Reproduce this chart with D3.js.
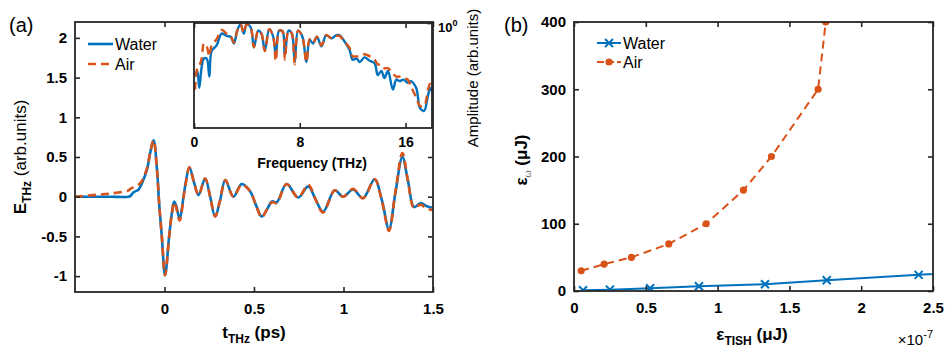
<!DOCTYPE html>
<html>
<head>
<meta charset="utf-8">
<script src="https://cdn.jsdelivr.net/npm/d3@7"></script>
<style>
  body { margin: 0; background: #fff; }
  text { font-family: "Liberation Sans", Arial, sans-serif; fill: #000; }
</style>
</head>
<body>
<div id="chart"></div>
<script>
// ---- panel (a): time-domain field ----
const timePs = [-0.5, -0.4, -0.3, -0.2, -0.19, -0.173, -0.145, -0.126, -0.098, -0.08, -0.061, -0.042, -0.03, -0.015,
  0.003, 0.026, 0.041, 0.054, 0.066, 0.084, 0.115, 0.139, 0.165, 0.19, 0.227, 0.255, 0.283, 0.31, 0.34, 0.385,
  0.431, 0.478, 0.51, 0.543, 0.575, 0.6, 0.627, 0.682, 0.747, 0.803, 0.845, 0.886, 0.951, 0.998, 1.054, 1.109,
  1.174, 1.215, 1.254, 1.29, 1.329, 1.36, 1.394, 1.431, 1.465, 1.5];
const waterField = [0, 0, 0, 0, 0.01, 0.055, 0.09, 0.17, 0.34, 0.55, 0.71, 0.34, -0.08, -0.5,
  -0.99, -0.5, -0.21, -0.06, -0.12, -0.27, 0.13, 0.37, 0.18, 0.02, 0.23, 0.0, -0.25, -0.05, 0.21, 0.0,
  0.16, 0.07, -0.1, -0.25, -0.15, -0.06, -0.07, 0.16, -0.01, 0.13, -0.04, -0.19, 0.08, 0.0, 0.09, -0.02,
  0.22, -0.05, -0.41, 0.05, 0.5, 0.2, -0.13, -0.08, -0.12, -0.14];
const airField = [0, 0.02, 0.04, 0.08, 0.1, 0.12, 0.15, 0.2, 0.36, 0.56, 0.71, 0.34, -0.08, -0.5,
  -0.99, -0.5, -0.21, -0.07, -0.14, -0.3, 0.12, 0.37, 0.18, 0.02, 0.23, 0.0, -0.25, -0.05, 0.21, 0.0,
  0.15, 0.07, -0.1, -0.26, -0.15, -0.07, -0.08, 0.16, -0.01, 0.15, -0.04, -0.2, 0.08, 0.0, 0.1, -0.02,
  0.22, -0.06, -0.43, 0.06, 0.55, 0.2, -0.14, -0.1, -0.15, -0.17];
const timeTicks = [0, 0.5, 1, 1.5];
const fieldTicks = [-1, -0.5, 0, 0.5, 1, 1.5, 2];

// ---- inset: spectrum ----
const freqTHz = [0.08, 0.25, 0.4, 0.58, 0.75, 0.96, 1.16, 1.33, 1.71, 2.09, 2.47, 2.77, 3.02, 3.27, 3.52, 3.77,
  3.97, 4.28, 4.53, 4.86, 5.1, 5.36, 5.69, 5.99, 6.19, 6.44, 6.7, 6.87, 7.15, 7.4, 7.62, 7.87, 8.2, 8.5, 8.75,
  9.0, 9.3, 9.64, 10.0, 10.4, 10.77, 11.0, 11.4, 11.77, 12.0, 12.3, 12.53, 12.9, 13.3, 13.66, 13.9, 14.17,
  14.4, 14.67, 15.04, 15.3, 15.55, 15.85, 16.17, 16.4, 16.8, 17.1, 17.4, 17.7, 17.87, 18.0];
const waterSpec = [0.44, 0.48, 0.37, 0.51, 0.58, 0.58, 0.44, 0.65, 0.71, 0.85, 0.82, 0.81, 0.73, 0.89, 0.98, 0.85,
  0.98, 0.94, 0.69, 0.89, 0.85, 0.66, 0.91, 0.81, 0.60, 0.89, 0.88, 0.61, 0.89, 0.85, 0.55, 0.89, 0.81, 0.55, 0.77,
  0.73, 0.81, 0.70, 0.83, 0.79, 0.83, 0.83, 0.75, 0.66, 0.57, 0.58, 0.55, 0.59, 0.56, 0.54, 0.45, 0.48,
  0.43, 0.48, 0.36, 0.42, 0.41, 0.42, 0.40, 0.41, 0.37, 0.27, 0.26, 0.33, 0.37, 0.35];
const airSpec = [0.36, 0.50, 0.52, 0.58, 0.73, 0.70, 0.60, 0.71, 0.78, 0.90, 0.85, 0.82, 0.74, 0.89, 0.98, 0.86,
  0.98, 0.94, 0.69, 0.89, 0.85, 0.65, 0.91, 0.81, 0.56, 0.89, 0.88, 0.57, 0.89, 0.85, 0.53, 0.89, 0.81, 0.55, 0.78,
  0.74, 0.81, 0.71, 0.83, 0.79, 0.82, 0.82, 0.75, 0.68, 0.60, 0.60, 0.60, 0.62, 0.60, 0.57, 0.53, 0.53,
  0.50, 0.50, 0.46, 0.44, 0.44, 0.43, 0.42, 0.38, 0.32, 0.28, 0.28, 0.36, 0.40, 0.41];
const freqTicks = [0, 8, 16];

// ---- panel (b): energy scaling (x in units of 1e-7 uJ) ----
const waterEnergy = [0.063, 0.25, 0.53, 0.87, 1.33, 1.76, 2.40, 2.8];
const waterOmega = [1, 2, 4, 7, 10, 16, 24, 29];
const airEnergy = [0.05, 0.21, 0.40, 0.66, 0.92, 1.18, 1.375, 1.70, 1.753];
const airOmega = [30, 40, 50, 70, 100, 150, 200, 300, 400];
const energyTicks = [0, 0.5, 1, 1.5, 2, 2.5];
const omegaTicks = [0, 100, 200, 300, 400];

const blue = '#0072BD', orange = '#D95319', axisCol = '#262626';

const svg = d3.select('#chart').append('svg')
  .attr('width', 947).attr('height', 350);

function frame(g, x, y, xt, yt, o) {
  const [x0, x1] = x.range(), [y0, y1] = y.range();
  const fmt = d => String(d);
  const tk = 5;
  const bottom = g.append('g').attr('transform', 'translate(0,' + y0 + ')')
    .call(d3.axisBottom(x).tickValues(xt).tickSize(-tk).tickPadding(o.padX).tickFormat(o.xLabels ? fmt : ''));
  g.append('g').attr('transform', 'translate(0,' + y1 + ')')
    .call(d3.axisTop(x).tickValues(xt).tickSize(-tk).tickFormat(''));
  g.append('g').attr('transform', 'translate(' + x0 + ',0)')
    .call(d3.axisLeft(y).tickValues(o.leftTicks ? yt : []).tickSize(-tk).tickPadding(8).tickFormat(fmt));
  g.append('g').attr('transform', 'translate(' + x1 + ',0)')
    .call(d3.axisRight(y).tickValues(yt).tickSize(-tk).tickFormat(''));
  g.selectAll('.domain').remove();
  g.selectAll('.tick line').attr('stroke', axisCol).attr('stroke-width', 1.6);
  g.selectAll('.tick text').attr('font-size', o.fs).attr('font-weight', 'bold')
    .attr('font-family', '"Liberation Sans", Arial, sans-serif').attr('fill', '#000');
  g.append('rect').attr('x', x0).attr('y', y1).attr('width', x1 - x0).attr('height', y0 - y1)
    .attr('fill', 'none').attr('stroke', axisCol).attr('stroke-width', 1.8);
}

function clip(id, x, y) {
  const [x0, x1] = x.range(), [y0, y1] = y.range();
  svg.append('clipPath').attr('id', id).append('rect')
    .attr('x', x0).attr('y', y1).attr('width', x1 - x0).attr('height', y0 - y1);
}

// ===== panel (a) =====
const xA = d3.scaleLinear().domain([-0.5, 1.5]).range([75, 433]);
const yA = d3.scaleLinear().domain([-1.2, 2.2]).range([292, 22]);
clip('clipA', xA, yA);
const gA = svg.append('g');
const lineA = (vals) => d3.line().curve(d3.curveCatmullRom.alpha(0.5))
  .x((d, i) => xA(timePs[i])).y(d => yA(d))(vals);
const plotA = gA.append('g').attr('clip-path', 'url(#clipA)');
plotA.append('path').attr('d', lineA(waterField)).attr('fill', 'none')
  .attr('stroke', blue).attr('stroke-width', 2.6);
plotA.append('path').attr('d', lineA(airField)).attr('fill', 'none')
  .attr('stroke', orange).attr('stroke-width', 2.6).attr('stroke-dasharray', '8,5');
frame(gA, xA, yA, timeTicks, fieldTicks, { padX: 11, xLabels: true, leftTicks: true, fs: 15 });

// legend (a)
const legA = gA.append('g');
[['Water', blue, null, 44], ['Air', orange, '8,5', 64]].forEach(([name, col, dash, yy]) => {
  legA.append('line').attr('x1', 88).attr('x2', 113).attr('y1', yy).attr('y2', yy)
    .attr('stroke', col).attr('stroke-width', 2.6).attr('stroke-dasharray', dash);
  legA.append('text').attr('x', 115).attr('y', yy + 5.5).attr('font-size', 16).text(name);
});

// inset
const xI = d3.scaleLinear().domain([0, 18]).range([194, 432]);
const yI = d3.scaleLog().domain([0.2, 1]).range([128, 23]);
clip('clipI', xI, yI);
const gI = svg.append('g');
gI.append('rect').attr('x', 194).attr('y', 23).attr('width', 238).attr('height', 105).attr('fill', '#fff');
const lineI = (vals) => d3.line().curve(d3.curveCatmullRom.alpha(0.5))
  .x((d, i) => xI(freqTHz[i])).y(d => yI(d))(vals);
const plotI = gI.append('g').attr('clip-path', 'url(#clipI)');
plotI.append('path').attr('d', lineI(waterSpec)).attr('fill', 'none')
  .attr('stroke', blue).attr('stroke-width', 2.4);
plotI.append('path').attr('d', lineI(airSpec)).attr('fill', 'none')
  .attr('stroke', orange).attr('stroke-width', 2.4).attr('stroke-dasharray', '8,5');
frame(gI, xI, yI, freqTicks, [1], { padX: 9, xLabels: true, leftTicks: false, fs: 14 });
const tenLabel = gI.append('text').attr('x', 438).attr('y', 32).attr('font-size', 13).attr('font-weight', 'bold');
tenLabel.append('tspan').text('10');
tenLabel.append('tspan').attr('dy', -6).attr('font-size', 9).text('0');
gI.append('text').attr('x', 312).attr('y', 168).attr('text-anchor', 'middle')
  .attr('font-size', 14).attr('font-weight', 'bold').text('Frequency (THz)');
gI.append('text').attr('transform', 'translate(478,78) rotate(-90)').attr('text-anchor', 'middle')
  .attr('font-size', 15).text('Amplitude (arb.units)');

// titles (a)
const xtA = gA.append('text').attr('x', 254).attr('y', 338).attr('text-anchor', 'middle')
  .attr('font-size', 17).attr('font-weight', 'bold');
xtA.append('tspan').text('t');
xtA.append('tspan').attr('dy', 5).attr('font-size', 12).text('THz');
xtA.append('tspan').attr('dy', -5).text(' (ps)');
const ytA = gA.append('text').attr('transform', 'translate(26,157) rotate(-90)').attr('text-anchor', 'middle')
  .attr('font-size', 17).attr('font-weight', 'bold');
ytA.append('tspan').text('E');
ytA.append('tspan').attr('dy', 5).attr('font-size', 12).text('THz');
ytA.append('tspan').attr('dy', -5).attr('font-weight', 'normal').text(' (arb.units)');
svg.append('text').attr('x', 9).attr('y', 32).attr('font-size', 20).text('(a)');

// ===== panel (b) =====
const xB = d3.scaleLinear().domain([0, 2.5]).range([574, 933]);
const yB = d3.scaleLinear().domain([0, 400]).range([291, 22]);
clip('clipB', xB, yB);
const gB = svg.append('g');
const plotB = gB.append('g').attr('clip-path', 'url(#clipB)');
const lineB = d3.line().x(d => xB(d[0])).y(d => yB(d[1]));
const waterPts = waterEnergy.map((e, i) => [e, waterOmega[i]]);
const airPts = airEnergy.map((e, i) => [e, airOmega[i]]);
plotB.append('path').attr('d', lineB(waterPts)).attr('fill', 'none')
  .attr('stroke', blue).attr('stroke-width', 2);
plotB.append('path').attr('d', lineB(airPts)).attr('fill', 'none')
  .attr('stroke', orange).attr('stroke-width', 2).attr('stroke-dasharray', '8,5');
const cross = (sel, cx, cy) => sel.append('path')
  .attr('d', `M${cx - 4},${cy - 4}L${cx + 4},${cy + 4}M${cx - 4},${cy + 4}L${cx + 4},${cy - 4}`)
  .attr('stroke', blue).attr('stroke-width', 2).attr('fill', 'none');
waterPts.forEach(d => cross(plotB, xB(d[0]), yB(d[1])));
plotB.selectAll('circle.air').data(airPts).join('circle').attr('class', 'air')
  .attr('cx', d => xB(d[0])).attr('cy', d => yB(d[1])).attr('r', 3.6).attr('fill', orange);
frame(gB, xB, yB, energyTicks, omegaTicks, { padX: 11, xLabels: true, leftTicks: true, fs: 15 });

// legend (b)
const legB = gB.append('g');
legB.append('line').attr('x1', 597).attr('x2', 621).attr('y1', 43).attr('y2', 43)
  .attr('stroke', blue).attr('stroke-width', 2);
cross(legB, 609, 43);
legB.append('text').attr('x', 623).attr('y', 48.5).attr('font-size', 16).text('Water');
legB.append('line').attr('x1', 597).attr('x2', 621).attr('y1', 62).attr('y2', 62)
  .attr('stroke', orange).attr('stroke-width', 2).attr('stroke-dasharray', '7,3');
legB.append('circle').attr('cx', 609).attr('cy', 62).attr('r', 3.6).attr('fill', orange);
legB.append('text').attr('x', 623).attr('y', 67.5).attr('font-size', 16).text('Air');

// titles (b)
const xtB = gB.append('text').attr('x', 752).attr('y', 340).attr('text-anchor', 'middle')
  .attr('font-size', 17).attr('font-weight', 'bold');
xtB.append('tspan').text('ε');
xtB.append('tspan').attr('dy', 5).attr('font-size', 12).text('TISH');
xtB.append('tspan').attr('dy', -5).text(' (μJ)');
const ytB = gB.append('text').attr('transform', 'translate(527,160) rotate(-90)').attr('text-anchor', 'middle')
  .attr('font-size', 17).attr('font-weight', 'bold');
ytB.append('tspan').text('ε');
ytB.append('tspan').attr('dy', 4).attr('font-size', 9).attr('font-weight', 'normal').attr('fill', '#666').text('ω');
ytB.append('tspan').attr('dy', -4).text('  (μJ)');
const expB = gB.append('text').attr('x', 933).attr('y', 345).attr('text-anchor', 'end').attr('font-size', 15);
expB.append('tspan').text('×10');
expB.append('tspan').attr('dy', -7).attr('font-size', 11).text('-7');
svg.append('text').attr('x', 504).attr('y', 32).attr('font-size', 20).text('(b)');
</script>
</body>
</html>
